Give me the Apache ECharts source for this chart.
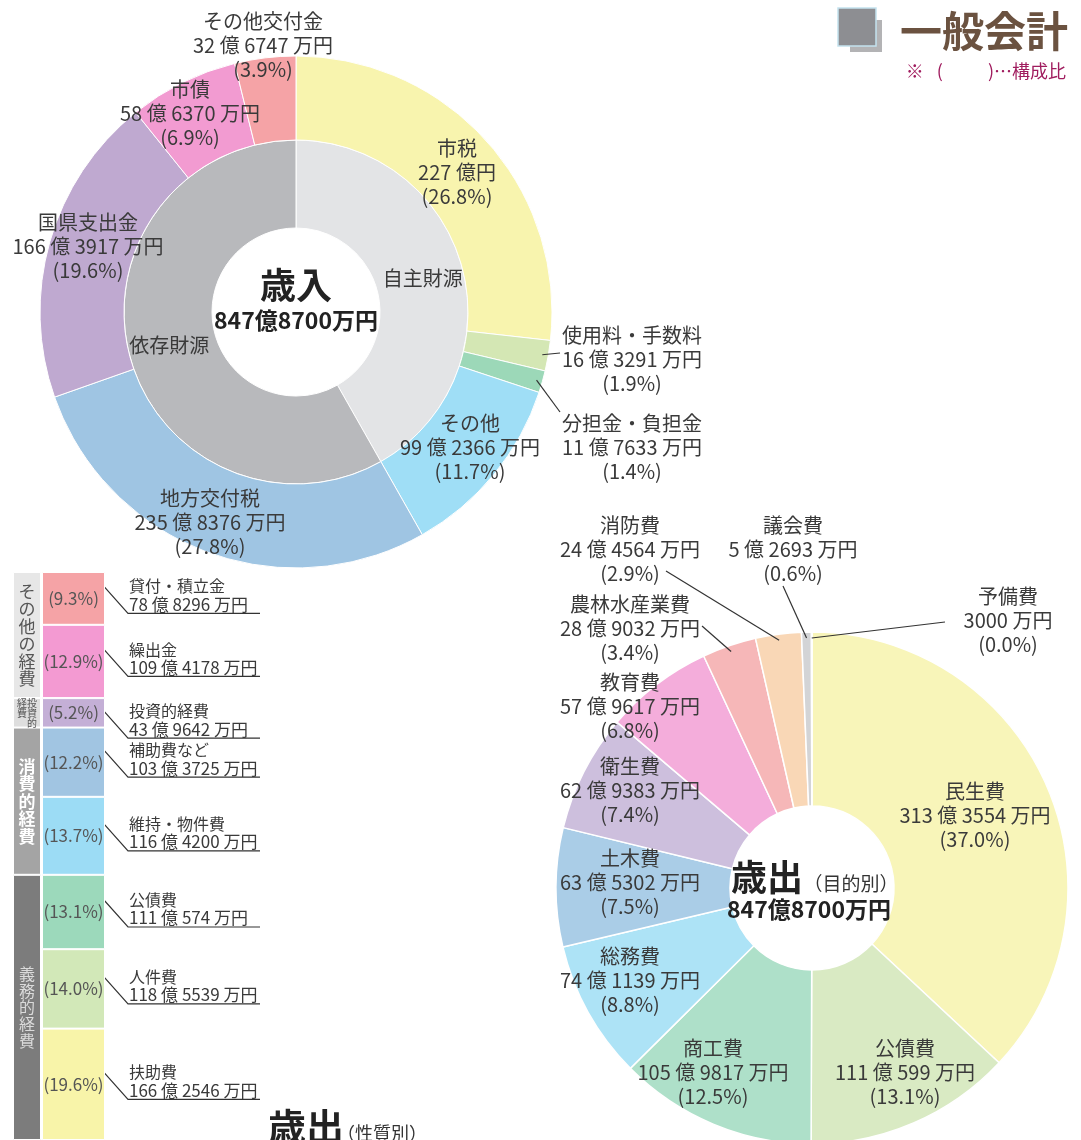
<!DOCTYPE html>
<html lang="ja">
<head>
<meta charset="utf-8">
<title>一般会計</title>
<script src="https://cdn.jsdelivr.net/npm/echarts@6/dist/echarts.min.js"></script>
<style>
  html, body { margin: 0; padding: 0; background: #fff; }
  #chart { width: 1081px; height: 1140px; }
</style>
</head>
<body>
<div id="chart"></div>
<script>
// 金額はすべて万円単位

// 歳入
const revNames = ['市税', '使用料・手数料', '分担金・負担金', 'その他', '地方交付税', '国県支出金', '市債', 'その他交付金'];
const revValues = [2270000, 163291, 117633, 992366, 2358376, 1663917, 586370, 326747];
const revPct = [26.8, 1.9, 1.4, 11.7, 27.8, 19.6, 6.9, 3.9];
const srcNames = ['自主財源', '依存財源'];
const revSrc = [0, 0, 0, 0, 1, 1, 1, 1];

// 歳出（目的別）
const expNames = ['民生費', '公債費', '商工費', '総務費', '土木費', '衛生費', '教育費', '農林水産業費', '消防費', '議会費', '予備費'];
const expValues = [3133554, 1110599, 1059817, 741139, 635302, 629383, 579617, 289032, 244564, 52693, 3000];
const expPct = [37.0, 13.1, 12.5, 8.8, 7.5, 7.4, 6.8, 3.4, 2.9, 0.6, 0.0];

// 歳出（性質別）
const natNames = ['貸付・積立金', '繰出金', '投資的経費', '補助費など', '維持・物件費', '公債費', '人件費', '扶助費'];
const natValues = [788296, 1094178, 439642, 1033725, 1164200, 1110574, 1185539, 1662546];
const natPct = [9.3, 12.9, 5.2, 12.2, 13.7, 13.1, 14.0, 19.6];
const natGroupNames = ['その他の経費', '投資的経費', '消費的経費', '義務的経費'];
const natGroup = [0, 0, 1, 2, 2, 3, 3, 3];

// colours
const revColors = ['#f8f4ae', '#d4e7b4', '#9cd8b8', '#9fdef6', '#9fc5e3', '#bfa9d0', '#f29bd1', '#f5a3a6'];
const srcColors = ['#e3e4e6', '#b8b9bc'];
const expColors = ['#f8f5b9', '#d9eac3', '#aee0c9', '#ade3f6', '#aacde7', '#cdbfdd', '#f4addb', '#f6b7b8', '#f9d7b6', '#d3d4d6', '#e2e2e2'];
const natColors = ['#f5a3a6', '#f39ad2', '#c4afd6', '#a1c5e2', '#9cdcf5', '#9cd9bb', '#d2e8b8', '#f8f4a9'];
const grpColors = ['#e7e7e7', '#dedede', '#a4a4a4', '#7c7c7c'];

const FONT = "'Noto Sans CJK JP', 'Noto Sans', sans-serif";
const TXT = '#3a3a3a';
const R_OUT = 256;
const revCenter = [296, 312];
const expCenter = [812, 888];

// label anchors (centre of each text block) and leader offsets from them
const revLabelAt = [[457, 172], [632, 359], [632, 447], [470, 447], [210, 522], [88, 246], [190, 113], [263, 45]];
const revLead = { 1: [-72, -6], 2: [-72, -35] };
const expLabelAt = [[975, 815], [905, 1072], [713, 1072], [630, 980], [630, 882], [630, 790], [630, 706], [630, 628], [630, 549], [793, 549], [1008, 620]];
const expLead = { 7: [72, -2], 8: [36, 22], 9: [-10, 37], 10: [-63, 2] };

const sum = (a) => a.reduce((s, v) => s + v, 0);

function yen(v) {
  const oku = Math.floor(v / 10000), man = v % 10000;
  if (!oku) return man + ' 万円';
  if (!man) return oku + ' 億円';
  return oku + ' 億 ' + man + ' 万円';
}
function yenTight(v) {
  return Math.floor(v / 10000) + '億' + (v % 10000) + '万円';
}

// point on a slice's mid angle (pie starts at 12 o'clock, clockwise)
function edgePoint(center, r, values, idx) {
  const tot = sum(values);
  const cum = sum(values.slice(0, idx)) + values[idx] / 2;
  const a = Math.PI / 2 - cum / tot * 2 * Math.PI;
  return [center[0] + r * Math.cos(a), center[1] - r * Math.sin(a)];
}

function pieData(names, values, colors) {
  return names.map((n, i) => ({ name: n, value: values[i], itemStyle: { color: colors[i] } }));
}

function placer(at) {
  return (p) => {
    const [x, y] = at[p.dataIndex];
    return { x, y, align: 'center', verticalAlign: 'middle' };
  };
}

function leaders(at, leads, center, values) {
  return Object.keys(leads).map((k) => {
    const i = +k;
    const [x, y] = at[i];
    const e = edgePoint(center, R_OUT - 6, values, i);
    return {
      type: 'polyline', z: 20, silent: true,
      shape: { points: [[x + leads[i][0], y + leads[i][1]], e] },
      style: { stroke: '#333', lineWidth: 1.2, fill: null }
    };
  });
}

const pieLabel = (pct) => ({
  show: true,
  position: 'inside',
  fontFamily: FONT,
  fontSize: 20,
  lineHeight: 24,
  color: TXT,
  formatter: (p) => `${p.name}\n${yen(p.value)}\n(${pct[p.dataIndex].toFixed(1)}%)`
});

const srcValues = srcNames.map((_, g) => sum(revValues.filter((v, i) => revSrc[i] === g)));

// 性質別
const natTotal = sum(natValues);
const natStart = natValues.map((v, i) => sum(natValues.slice(0, i)));
const grpValues = natGroupNames.map((_, g) => sum(natValues.filter((v, i) => natGroup[i] === g)));

function vertical(s) { return [...s].join('\n'); }
function twoCol(s) {
  const right = [...s.slice(0, 3)], left = [...s.slice(3)];
  return right.map((c, k) => (left[k] || '\u3000') + c).join('\n');
}
const grpLabel = [
  { formatter: vertical(natGroupNames[0]), fontSize: 17, lineHeight: 17.5, color: '#555' },
  { formatter: twoCol(natGroupNames[1]), fontSize: 10, lineHeight: 10, color: '#555' },
  { formatter: vertical(natGroupNames[2]), fontSize: 17, lineHeight: 17.5, color: '#fff', fontWeight: 'bold' },
  { formatter: vertical(natGroupNames[3]), fontSize: 16, lineHeight: 16.6, color: '#dadada' }
];

const grpSeries = natGroupNames.map((n, g) => ({
  type: 'bar', name: n, xAxisIndex: 0, yAxisIndex: 0, stack: 'grp', barWidth: '100%',
  data: [grpValues[g]],
  itemStyle: { color: grpColors[g], borderColor: '#fff', borderWidth: 1 },
  label: Object.assign({ show: true, position: 'inside', fontFamily: FONT }, grpLabel[g]),
  silent: true
}));

const natSeries = natNames.map((n, i) => ({
  type: 'bar', name: n, xAxisIndex: 1, yAxisIndex: 1, stack: 'nat', barWidth: '100%',
  data: [natValues[i]],
  itemStyle: { color: natColors[i], borderColor: '#fff', borderWidth: 1 },
  label: {
    show: true, position: 'inside', fontFamily: FONT, fontSize: 17, color: '#555',
    formatter: () => `(${natPct[i].toFixed(1)}%)`
  },
  silent: true
}));

const txtStyle = (font, fill, align, vAlign) => ({
  font, fill, align, textAlign: align, verticalAlign: vAlign, textVerticalAlign: vAlign
});

const natLeaders = {
  type: 'custom', xAxisIndex: 1, yAxisIndex: 1, clip: false, silent: true,
  data: natValues.map((v, i) => [0, natStart[i], natStart[i] + v]),
  encode: { x: 0, y: [1, 2] },
  renderItem(params, api) {
    const i = params.dataIndex;
    const top = api.coord([0, api.value(1)]);
    const bot = api.coord([0, api.value(2)]);
    const half = api.size([1, 0])[0] / 2;
    const x0 = top[0] + half - 10;
    const y0 = Math.max(top[1] + 3, (top[1] + bot[1]) / 2 - 22);
    const x1 = x0 + 33, y1 = y0 + 37, x2 = x1 + 132;
    return {
      type: 'group',
      children: [
        { type: 'polyline', shape: { points: [[x0, y0], [x1, y1], [x2, y1]] },
          style: { stroke: '#333', lineWidth: 1.2, fill: null } },
        { type: 'text', style: Object.assign({ text: natNames[i], x: x1 + 1, y: y1 - 27 },
          txtStyle(`16px ${FONT}`, TXT, 'left', 'middle')) },
        { type: 'text', style: Object.assign({ text: yen(natValues[i]), x: x1 + 1, y: y1 - 9 },
          txtStyle(`17px ${FONT}`, TXT, 'left', 'middle')) }
      ]
    };
  }
};

const revTotal = sum(revValues);
const expTotal = sum(expValues);

function gText(text, x, y, font, fill, align) {
  return { type: 'text', x, y, z: 10, silent: true,
    style: Object.assign({ text }, txtStyle(font, fill, align || 'center', 'middle')) };
}

const chart = echarts.init(document.getElementById('chart'), null, { renderer: 'canvas' });
chart.setOption({
  animation: false,
  backgroundColor: '#fff',
  textStyle: { fontFamily: FONT },
  grid: [
    { left: 13, top: 572, width: 28, height: 568 },
    { left: 42, top: 572, width: 63, height: 568 }
  ],
  xAxis: [
    { gridIndex: 0, type: 'category', data: ['group'], show: false },
    { gridIndex: 1, type: 'category', data: ['nature'], show: false }
  ],
  yAxis: [
    { gridIndex: 0, type: 'value', min: 0, max: natTotal, inverse: true, show: false },
    { gridIndex: 1, type: 'value', min: 0, max: natTotal, inverse: true, show: false }
  ],
  series: [
    {
      type: 'pie', name: '財源', center: revCenter, radius: [84, 172],
      startAngle: 90, clockwise: true, silent: true,
      itemStyle: { borderColor: '#fff', borderWidth: 1 },
      label: { show: true, position: 'inside', fontFamily: FONT, fontSize: 20, color: TXT, formatter: '{b}' },
      labelLine: { show: false },
      data: pieData(srcNames, srcValues, srcColors)
    },
    {
      type: 'pie', name: '歳入', center: revCenter, radius: [172, R_OUT],
      startAngle: 90, clockwise: true, silent: true,
      itemStyle: { borderColor: '#fff', borderWidth: 1 },
      label: pieLabel(revPct),
      labelLine: { show: false },
      labelLayout: placer(revLabelAt),
      data: pieData(revNames, revValues, revColors)
    },
    {
      type: 'pie', name: '歳出（目的別）', center: expCenter, radius: [82, R_OUT],
      startAngle: 90, clockwise: true, silent: true,
      itemStyle: { borderColor: '#fff', borderWidth: 1.5 },
      label: pieLabel(expPct),
      labelLine: { show: false },
      labelLayout: placer(expLabelAt),
      data: pieData(expNames, expValues, expColors)
    },
    ...grpSeries,
    ...natSeries,
    natLeaders
  ],
  graphic: [
    ...leaders(revLabelAt, revLead, revCenter, revValues),
    ...leaders(expLabelAt, expLead, expCenter, expValues),
    { type: 'rect', z: 5, silent: true, shape: { x: 850, y: 20, width: 32, height: 32 }, style: { fill: '#b3b3b5' } },
    { type: 'rect', z: 6, silent: true, shape: { x: 838, y: 8, width: 38, height: 38 },
      style: { fill: '#8d8e92', stroke: '#c4e2ee', lineWidth: 1.5 } },
    gText('一般会計', 900, 31, `bold 42px ${FONT}`, '#6b5240', 'left'),
    gText('※ \u2002(\u3000\u3000\u2002)…構成比', 1066, 71, `18px ${FONT}`, '#a01c5e', 'right'),
    gText('歳入', 296, 285, `bold 36px ${FONT}`, '#222'),
    gText(yenTight(revTotal), 296, 320, `bold 23px ${FONT}`, '#222'),
    gText('歳出', 767, 877, `bold 36px ${FONT}`, '#222'),
    gText('（目的別）', 851, 884, `19px ${FONT}`, '#333'),
    gText(yenTight(expTotal), 809, 909, `bold 23px ${FONT}`, '#222'),
    gText('歳出', 306, 1127, `bold 38px ${FONT}`, '#222'),
    gText('（性質別）', 382, 1133, `18px ${FONT}`, '#333')
  ]
});
</script>
</body>
</html>
